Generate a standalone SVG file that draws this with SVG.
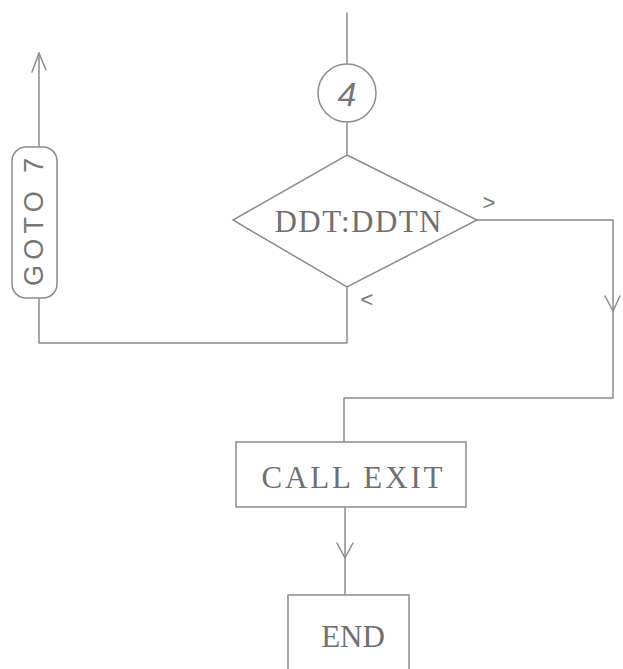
<svg xmlns="http://www.w3.org/2000/svg" width="623" height="669" viewBox="0 0 623 669">
<defs>
<style>
.ln{fill:none;stroke:#8c8c8c;stroke-width:1.5;stroke-linecap:round;stroke-linejoin:round}
.shape{fill:#ffffff;stroke:#8c8c8c;stroke-width:1.5}
.tw{font-family:"Liberation Serif","DejaVu Serif",serif;font-size:31px;fill:#707070;text-anchor:middle}
.hw{font-family:"Liberation Sans","DejaVu Sans",sans-serif;fill:#777;text-anchor:middle}
</style>
</defs>
<rect width="623" height="669" fill="#ffffff"/>
<g id="connectors">
<line class="ln" x1="347" y1="13" x2="347" y2="63"/>
<line class="ln" x1="347" y1="123" x2="347" y2="155"/>
<polyline class="ln" points="477,220 613,220 613,398 344,398 344,442"/>
<polyline class="ln" points="605,296 613,311 620,296"/>
<polyline class="ln" points="347,287 347,343 39,343 39,298"/>
<line class="ln" x1="39" y1="147" x2="39" y2="53"/>
<polyline class="ln" points="32,72 39,53 46,70"/>
<line class="ln" x1="345" y1="507" x2="345" y2="595"/>
<polyline class="ln" points="337,543 345,558 353,543"/>
<text class="hw" x="489" y="210" font-size="22">&gt;</text>
<text class="hw" x="367" y="307" font-size="22">&lt;</text>
</g>
<g id="node-connector-4">
<circle class="shape" cx="347" cy="93" r="29"/>
<text class="hw" x="347" y="106" font-size="34" font-style="italic">4</text>
</g>
<g id="node-decision">
<polygon class="shape" points="347,155 477,220 347,287 233,220"/>
<text class="tw" x="358" y="232" textLength="167" lengthAdjust="spacing">DDT:DDTN</text>
</g>
<g id="node-goto">
<rect class="shape" x="12" y="147" width="45" height="151" rx="14" ry="14"/>
<text class="hw" transform="translate(43,222) rotate(-90)" font-size="27" textLength="128" lengthAdjust="spacing">GOTO 7</text>
</g>
<g id="node-callexit">
<rect class="shape" x="236" y="442" width="230" height="65"/>
<text class="tw" x="352" y="488" textLength="181" lengthAdjust="spacing">CALL EXIT</text>
</g>
<g id="node-end">
<rect class="shape" x="288" y="595" width="121" height="90"/>
<text class="tw" x="353" y="647" font-size="29">END</text>
</g>
</svg>
